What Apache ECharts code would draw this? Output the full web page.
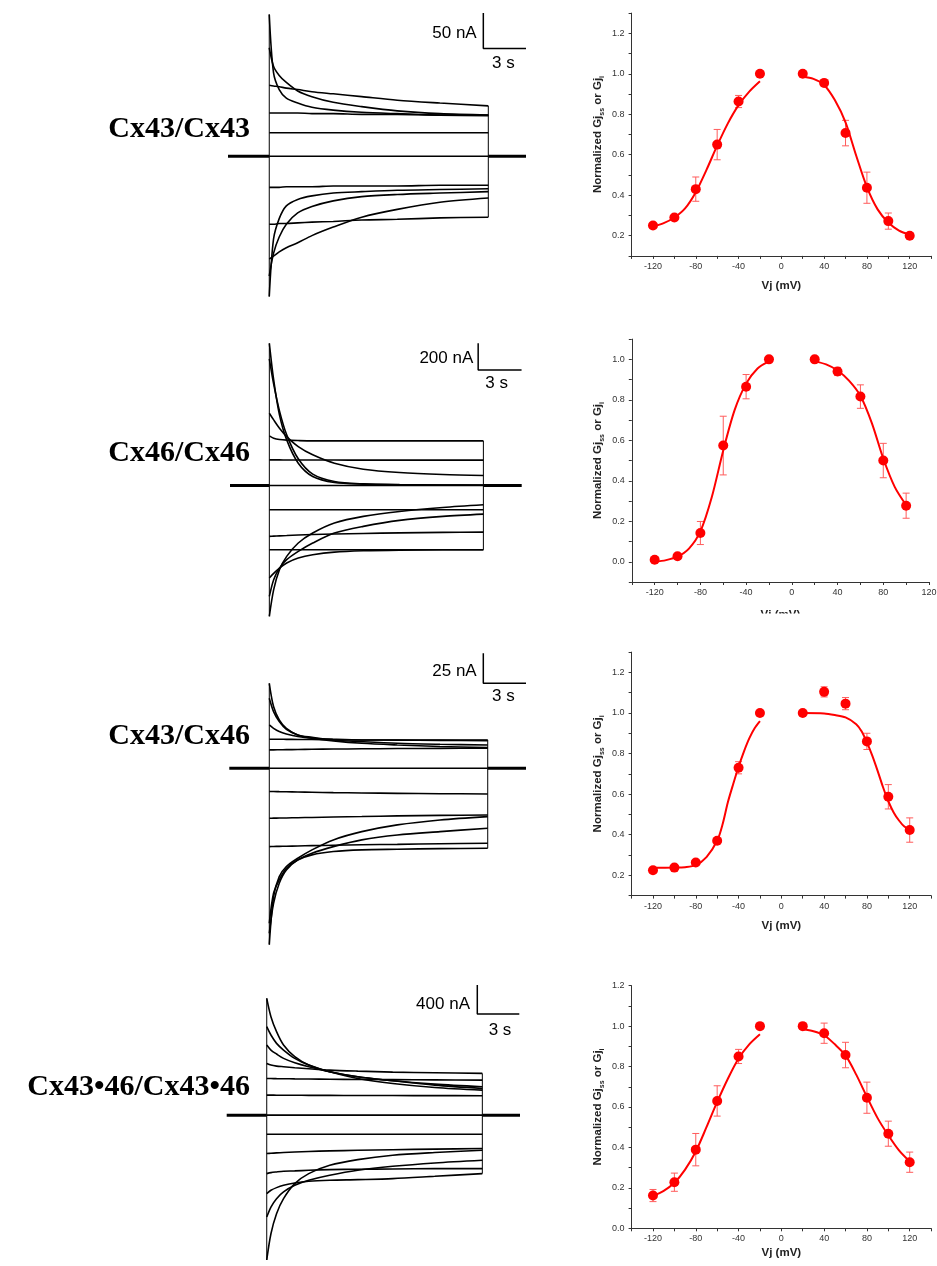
<!DOCTYPE html>
<html><head><meta charset="utf-8">
<script src="https://cdn.jsdelivr.net/npm/echarts@6/dist/echarts.min.js"></script>
<style>html,body{margin:0;padding:0;background:#fff}#c{width:937px;height:1266px}</style>
</head><body><div id="c"></div>
<script>
// ---------------- DATA ----------------
const constructs = ['Cx43/Cx43', 'Cx46/Cx46', 'Cx43/Cx46', 'Cx43\u202246/Cx43\u202246'];

// Current traces (nA) sampled at sampleT (s) + the pulse end time
const scaleCurrent = [50, 200, 25, 400];   // nA scale bars
const scaleTime = 3;                        // s scale bar
const pulseEnd = [15.4, 14.8, 15.35, 15.4];
const recStart = [-2.9, -2.72, -2.81, -2.86];
const recEnd = [18.05, 17.45, 18.04, 18.09];
const sampleT = [0, 0.3, 0.7, 1.2, 2, 3, 4.5, 6.5, 9, 12];

const tracesCx43 = [
  [200, 118, 94, 82, 75, 69, 65, 62, 60, 58, 57],
  [153, 127, 114, 104, 92, 84, 76, 70, 64, 60, 58],
  [100, 99, 98, 96, 94, 91, 88, 84, 79, 75, 71],
  [61, 61, 61, 61, 61, 60, 60, 59, 59, 58, 58],
  [33, 33, 33, 33, 33, 33, 33, 33, 33, 33, 33],
  [0, 0, 0, 0, 0, 0, 0, 0, 0, 0, 0],
  [-44, -44, -44, -43, -43, -43, -42, -42, -42, -41, -41],
  [-96, -96, -95, -95, -94, -93, -92, -90, -89, -87, -86],
  [-198, -117, -88, -70, -61, -56, -52, -50, -48, -47, -46],
  [-169, -137, -114, -96, -80, -71, -63, -57, -54, -52, -50],
  [-145, -141, -135, -129, -122, -112, -100, -86, -75, -65, -59]
];
const tracesCx46 = [
  [1067, 792, 530, 342, 167, 67, 22, 10, 5, 3, 2],
  [950, 760, 560, 380, 200, 85, 30, 12, 6, 4, 3],
  [542, 492, 430, 367, 292, 230, 167, 122, 97, 82, 75],
  [372, 355, 345, 340, 337, 335, 335, 335, 335, 335, 335],
  [192, 192, 192, 191, 191, 191, 191, 190, 190, 190, 190],
  [0, 0, 0, 0, 0, 0, 0, 0, 0, 0, 0],
  [-182, -182, -182, -182, -182, -182, -182, -182, -182, -182, -182],
  [-382, -380, -378, -376, -372, -368, -364, -360, -356, -352, -350],
  [-482, -482, -482, -482, -482, -482, -482, -482, -482, -482, -482],
  [-982, -782, -632, -532, -432, -357, -282, -232, -195, -165, -145],
  [-832, -707, -620, -557, -495, -432, -357, -307, -262, -232, -215],
  [-695, -660, -620, -582, -545, -520, -500, -490, -485, -483, -482]
];
const tracesCx43Cx46 = [
  [70.8, 51.4, 40.3, 33.3, 27.8, 25.8, 23.6, 22.2, 20.8, 20, 19.4],
  [58.3, 47.2, 38.9, 32.5, 27.8, 25, 22.8, 20.8, 19.4, 18.1, 17.2],
  [36.1, 33.3, 30.6, 28.6, 26.4, 25, 24.2, 23.6, 23.6, 23.6, 23.6],
  [24.2, 24.2, 24.2, 24.1, 24, 23.9, 23.8, 23.6, 23.4, 23.2, 23],
  [15.3, 15.3, 15.4, 15.5, 15.6, 15.8, 16, 16.2, 16.4, 16.6, 16.7],
  [0, 0, 0, 0, 0, 0, 0, 0, 0, 0, 0],
  [-19.4, -19.4, -19.5, -19.6, -19.8, -20, -20.3, -20.6, -20.9, -21.2, -21.4],
  [-41.7, -41.6, -41.5, -41.4, -41.2, -41, -40.6, -40.2, -39.7, -39.3, -38.9],
  [-65.3, -65.2, -65.1, -65, -64.8, -64.5, -64.2, -63.8, -63.4, -62.9, -62.5],
  [-147, -107, -90.3, -81.9, -75, -68, -59.7, -52.8, -47.2, -43.1, -40.3],
  [-137.5, -112.5, -95.8, -84.7, -76.4, -70.8, -65.3, -59.7, -55.6, -52.8, -50],
  [-129.2, -104.2, -93, -83.3, -76.4, -72.2, -69.4, -68, -67.5, -67, -66.7]
];
const tracesCx4346 = [
  [1610, 1357, 1150, 966, 805, 690, 598, 529, 474, 428, 391],
  [1219, 1104, 989, 897, 782, 690, 598, 506, 437, 382, 345],
  [966, 897, 842, 782, 722, 667, 598, 529, 474, 414, 368],
  [713, 690, 676, 667, 653, 639, 621, 607, 593, 584, 575],
  [506, 505, 503, 502, 500, 498, 495, 492, 489, 486, 483],
  [276, 276, 275, 275, 274, 273, 272, 271, 270, 269, 268],
  [0, 0, 0, 0, 0, 0, 0, 0, 0, 0, 0],
  [-262, -262, -262, -262, -262, -262, -262, -262, -262, -262, -262],
  [-529, -525, -520, -515, -508, -500, -492, -484, -476, -468, -460],
  [-805, -791, -782, -773, -768, -759, -750, -745, -741, -736, -736],
  [-1081, -1035, -998, -966, -934, -911, -897, -888, -874, -842, -805],
  [-1403, -1265, -1150, -1058, -966, -897, -828, -759, -704, -658, -621],
  [-1995, -1633, -1357, -1150, -943, -805, -690, -612, -552, -515, -483]
];
const allTraces = [tracesCx43, tracesCx46, tracesCx43Cx46, tracesCx4346];

// Normalized Gj vs Vj
const vjSteps = [-120, -100, -80, -60, -40, -20, 20, 40, 60, 80, 100, 120];
const vjStepsCx46 = [-120, -100, -80, -60, -40, -20, 20, 40, 60, 80, 100];
const gjCx43 = [0.25, 0.29, 0.43, 0.65, 0.863, 1.0, 1.0, 0.955, 0.707, 0.437, 0.272, 0.2];
const errCx43 = [0.012, 0.012, 0.06, 0.075, 0.03, 0, 0, 0.012, 0.063, 0.077, 0.04, 0.012];
const gjCx46 = [0.01, 0.027, 0.142, 0.574, 0.865, 1.0, 1.0, 0.94, 0.816, 0.5, 0.277];
const errCx46 = [0.01, 0.01, 0.057, 0.145, 0.06, 0, 0, 0.02, 0.058, 0.085, 0.062];
const gjCx43Cx46 = [0.225, 0.238, 0.263, 0.37, 0.73, 1.0, 1.0, 1.104, 1.046, 0.86, 0.587, 0.423];
const errCx43Cx46 = [0.008, 0.008, 0.01, 0.012, 0.03, 0, 0, 0.025, 0.03, 0.04, 0.06, 0.06];
const gjCx4346 = [0.162, 0.228, 0.389, 0.63, 0.85, 1.0, 1.0, 0.965, 0.857, 0.646, 0.468, 0.327];
const errCx4346 = [0.03, 0.045, 0.08, 0.075, 0.035, 0, 0, 0.05, 0.063, 0.077, 0.062, 0.05];

// Boltzmann fit curves
const fitVL = [-120, -110, -100, -90, -80, -70, -60, -50, -40, -30, -20];
const fitVR = [20, 30, 40, 50, 60, 70, 80, 90, 100, 110, 120];
const fitVRCx46 = [20, 30, 40, 50, 60, 70, 80, 90, 100];
const fitVLCx43Cx46 = [-120, -100, -90, -80, -70, -60, -55, -50, -45, -40, -35, -30, -25, -20];
const fitVRCx43Cx46 = [20, 40, 50, 60, 70, 75, 80, 85, 90, 95, 100, 105, 110, 115, 120];
const fitLCx43 = [0.245, 0.262, 0.29, 0.335, 0.415, 0.525, 0.645, 0.755, 0.845, 0.912, 0.963];
const fitRCx43 = [0.985, 0.975, 0.945, 0.87, 0.76, 0.595, 0.44, 0.33, 0.265, 0.225, 0.205];
const fitLCx46 = [0.0, 0.008, 0.025, 0.065, 0.15, 0.32, 0.55, 0.75, 0.88, 0.955, 0.99];
const fitRCx46 = [0.99, 0.975, 0.945, 0.895, 0.82, 0.685, 0.51, 0.37, 0.28];
const fitLCx43Cx46 = [0.237, 0.238, 0.24, 0.25, 0.29, 0.37, 0.45, 0.56, 0.65, 0.735, 0.81, 0.875, 0.925, 0.96];
const fitRCx43Cx46 = [1.0, 0.998, 0.99, 0.978, 0.945, 0.91, 0.855, 0.79, 0.715, 0.635, 0.565, 0.51, 0.47, 0.44, 0.425];
const fitLCx4346 = [0.16, 0.185, 0.225, 0.29, 0.38, 0.5, 0.625, 0.74, 0.84, 0.91, 0.96];
const fitRCx4346 = [0.985, 0.975, 0.955, 0.91, 0.855, 0.76, 0.65, 0.545, 0.46, 0.385, 0.33];

// ---------------- LAYOUT / STYLE ----------------
const gjSets = [
  {v: vjSteps, g: gjCx43, e: errCx43, fl: [fitVL, fitLCx43], fr: [fitVR, fitRCx43]},
  {v: vjStepsCx46, g: gjCx46, e: errCx46, fl: [fitVL, fitLCx46], fr: [fitVRCx46, fitRCx46]},
  {v: vjSteps, g: gjCx43Cx46, e: errCx43Cx46, fl: [fitVLCx43Cx46, fitLCx43Cx46], fr: [fitVRCx43Cx46, fitRCx43Cx46]},
  {v: vjSteps, g: gjCx4346, e: errCx4346, fl: [fitVL, fitLCx4346], fr: [fitVR, fitRCx4346]}
];
const traceGrids = [
  {left: 228, top: 13, width: 298, height: 285, yMin: -200, yMax: 202},
  {left: 230, top: 343.3, width: 291.7, height: 273.4, yMin: -985, yMax: 1067},
  {left: 229.3, top: 653.3, width: 296.7, height: 291.7, yMin: -147.3, yMax: 95.8},
  {left: 226.7, top: 985, width: 293.3, height: 275, yMin: -1995, yMax: 1793}
];
const scaleAnchor = [[15.05, 152], [14.44, 867], [15.04, 70.8], [15.04, 1393]];
const gjGrids = [
  {left: 631.6, top: 13.1, width: 299.5, height: 242.8, xMin: -140, xMax: 140, yMin: 0.1, yMax: 1.3, nameGap: 24},
  {left: 631.8, top: 339.1, width: 297.2, height: 242.9, xMin: -140, xMax: 120, yMin: -0.1, yMax: 1.1, nameGap: 27},
  {left: 631.6, top: 652.1, width: 299.5, height: 243.5, xMin: -140, xMax: 140, yMin: 0.1, yMax: 1.3, nameGap: 24},
  {left: 631.6, top: 985.7, width: 299.5, height: 242.6, xMin: -140, xMax: 140, yMin: 0, yMax: 1.2, nameGap: 19}
];
const labelPos = [
  {cy: 129, nA: [476.7, 33.3], s: [503.3, 63.3]},
  {cy: 453, nA: [473.3, 358], s: [496.7, 383.3]},
  {cy: 736, nA: [476.7, 671.7], s: [503.3, 696.7]},
  {cy: 1087, nA: [470, 1004.3], s: [500, 1030]}
];
const SANS = '"Liberation Sans", Arial, Helvetica, sans-serif';
const RED = '#ff0000';

const grids = [], xAxes = [], yAxes = [], series = [], graphics = [];

traceGrids.forEach((g, i) => {
  grids.push({left: g.left, top: g.top, width: g.width, height: g.height, outerBoundsMode: 'none', containLabel: false});
  xAxes.push({type: 'value', gridIndex: i, min: recStart[i], max: recEnd[i], show: false});
  yAxes.push({type: 'value', gridIndex: i, min: g.yMin, max: g.yMax, show: false});
});
gjGrids.forEach((g, i) => {
  grids.push({left: g.left, top: g.top, width: g.width, height: g.height, outerBoundsMode: 'none', containLabel: false});
  xAxes.push({
    type: 'value', gridIndex: 4 + i, min: g.xMin, max: g.xMax, interval: 20,
    name: 'Vj (mV)', nameLocation: 'middle', nameGap: g.nameGap,
    nameTextStyle: {fontFamily: SANS, fontWeight: 'bold', fontSize: 11.5, color: '#222'},
    axisLine: {show: true, onZero: false, lineStyle: {color: '#333', width: 1}},
    axisTick: {show: true, inside: false, length: 3, lineStyle: {color: '#333'}},
    axisLabel: {fontFamily: SANS, fontSize: 9, color: '#333', margin: 6,
      formatter: v => (Math.round(v) % 40 === 0 && v > -140 && v < 140) ? String(Math.round(v)) : ''},
    splitLine: {show: false}
  });
  yAxes.push({
    type: 'value', gridIndex: 4 + i, min: g.yMin, max: g.yMax, interval: 0.1,
    name: '{b|Normalized Gj}{s|ss}{b| or Gj}{s|i}', nameLocation: 'middle', nameGap: 26, nameRotate: 90,
    nameTextStyle: {fontFamily: SANS, color: '#222', rich: {
      b: {fontFamily: SANS, fontWeight: 'bold', fontSize: 11.5, color: '#222', lineHeight: 15},
      s: {fontFamily: SANS, fontWeight: 'bold', fontSize: 7, color: '#222', verticalAlign: 'bottom', lineHeight: 9}
    }},
    axisLine: {show: true, onZero: false, lineStyle: {color: '#333', width: 1}},
    axisTick: {show: true, inside: false, length: 3, lineStyle: {color: '#333'}},
    axisLabel: {fontFamily: SANS, fontSize: 9, color: '#333', margin: 7,
      formatter: v => { const k = Math.round(v * 10); return k % 2 === 0 ? (k / 10).toFixed(1) : ''; }},
    splitLine: {show: false}
  });
});

// Current traces
allTraces.forEach((traces, i) => {
  const times = sampleT.concat([pulseEnd[i]]);
  traces.forEach(tr => {
    series.push({
      type: 'line', xAxisIndex: i, yAxisIndex: i, showSymbol: false, symbol: 'none',
      smooth: 0.3, animation: false, silent: true,
      data: times.map((t, k) => [t, tr[k]]),
      lineStyle: {color: '#000', width: 1.6}
    });
  });
  const peaks = traces.map(tr => tr[0]);
  const ends = traces.map(tr => tr[tr.length - 1]);
  const seg = (data, w) => series.push({
    type: 'line', xAxisIndex: i, yAxisIndex: i, showSymbol: false, symbol: 'none', animation: false, silent: true,
    data: data, lineStyle: {color: '#000', width: w}
  });
  seg([[0, Math.min(...peaks)], [0, Math.max(...peaks)]], 1);
  seg([[pulseEnd[i], Math.min(...ends)], [pulseEnd[i], Math.max(...ends)]], 1);
  seg([[recStart[i], 0], [0, 0]], 3);
  seg([[pulseEnd[i], 0], [recEnd[i], 0]], 3);
  const a = scaleAnchor[i];
  seg([[a[0], a[1] + scaleCurrent[i]], [a[0], a[1]], [a[0] + scaleTime, a[1]]], 1.5);

  const lp = labelPos[i];
  graphics.push({type: 'text', style: {text: constructs[i], x: 250, y: lp.cy, font: 'bold 30px "Liberation Serif", "Times New Roman", serif',
    fill: '#000', align: 'right', verticalAlign: 'middle', textAlign: 'right', textVerticalAlign: 'middle'}});
  graphics.push({type: 'text', style: {text: scaleCurrent[i] + ' nA', x: lp.nA[0], y: lp.nA[1], font: '17px ' + SANS,
    fill: '#000', align: 'right', verticalAlign: 'middle', textAlign: 'right', textVerticalAlign: 'middle'}});
  graphics.push({type: 'text', style: {text: scaleTime + ' s', x: lp.s[0], y: lp.s[1], font: '17px ' + SANS,
    fill: '#000', align: 'center', verticalAlign: 'middle', textAlign: 'center', textVerticalAlign: 'middle'}});
});

// Gj plots
gjSets.forEach((d, i) => {
  const ax = 4 + i;
  [d.fl, d.fr].forEach(f => series.push({
    type: 'line', xAxisIndex: ax, yAxisIndex: ax, showSymbol: false, symbol: 'none', smooth: 0.3,
    animation: false, silent: true, z: 3,
    data: f[0].map((v, k) => [v, f[1][k]]),
    lineStyle: {color: RED, width: 2}
  }));
  series.push({
    type: 'custom', xAxisIndex: ax, yAxisIndex: ax, animation: false, silent: true, z: 2,
    data: d.v.map((v, k) => [v, d.g[k], d.e[k]]).filter(p => p[2] > 0),
    renderItem: (params, api) => {
      const x = api.value(0), y = api.value(1), e = api.value(2);
      const t = api.coord([x, y + e]), b = api.coord([x, y - e]);
      const hw = 3.5, st = {stroke: '#ff5c5c', lineWidth: 1};
      return {type: 'group', children: [
        {type: 'line', shape: {x1: t[0], y1: t[1], x2: b[0], y2: b[1]}, style: st},
        {type: 'line', shape: {x1: t[0] - hw, y1: t[1], x2: t[0] + hw, y2: t[1]}, style: st},
        {type: 'line', shape: {x1: b[0] - hw, y1: b[1], x2: b[0] + hw, y2: b[1]}, style: st}
      ]};
    }
  });
  series.push({
    type: 'scatter', xAxisIndex: ax, yAxisIndex: ax, symbol: 'circle', symbolSize: 10, animation: false, silent: true, z: 4,
    data: d.v.map((v, k) => [v, d.g[k]]),
    itemStyle: {color: RED, opacity: 1}
  });
});

// cropped x-axis title of the 2nd Gj panel (as in the original figure)
graphics.push({type: 'rect', shape: {x: 560, y: 613.5, width: 377, height: 22}, style: {fill: '#fff'}, z: 100});

const chart = echarts.init(document.getElementById('c'), null, {renderer: 'canvas'});
chart.setOption({
  backgroundColor: '#fff',
  animation: false,
  grid: grids, xAxis: xAxes, yAxis: yAxes, series: series, graphic: graphics
});
</script></body></html>
